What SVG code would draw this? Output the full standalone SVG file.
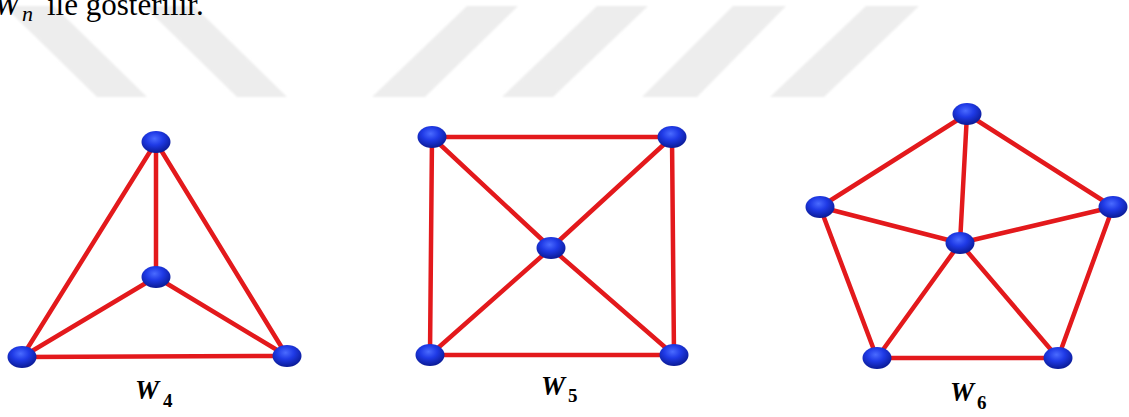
<svg xmlns="http://www.w3.org/2000/svg" width="1129" height="417" viewBox="0 0 1129 417">
  <defs>
    <radialGradient id="ball" cx="0.45" cy="0.35" r="0.65">
      <stop offset="0" stop-color="#4a6bff"/>
      <stop offset="0.45" stop-color="#1f3ae6"/>
      <stop offset="1" stop-color="#0a1a95"/>
    </radialGradient>
    <filter id="soft" x="-10%" y="-10%" width="120%" height="120%">
      <feGaussianBlur stdDeviation="1.2"/>
    </filter>
    <style>
      .edge { stroke: #e3191c; stroke-width: 4.5; stroke-linecap: round; fill: none; }
      .node { fill: url(#ball); }
      .stripe { fill: #ededed; }
      .lab { font-family: "Liberation Serif", "DejaVu Serif", serif; font-style: italic; font-weight: bold; fill: #000; }
      .sub { font-family: "Liberation Serif", "DejaVu Serif", serif; font-weight: bold; fill: #000; }
      .txt { font-family: "Liberation Serif", "DejaVu Serif", serif; fill: #000; }
    </style>
  </defs>
  <rect width="1129" height="417" fill="#ffffff"/>

  <g id="watermark" filter="url(#soft)">
    <polygon class="stripe" points="4,6 54,6 147,97 97,97"/>
    <polygon class="stripe" points="144,6 194,6 287,97 237,97"/>
    <polygon class="stripe" points="467,6 518,6 425,97 372,97"/>
    <polygon class="stripe" points="597,6 648,6 553,97 502,97"/>
    <polygon class="stripe" points="733,6 786,6 697,97 642,97"/>
    <polygon class="stripe" points="866,6 919,6 824,97 770,97"/>
  </g>

  <g id="heading">
    <text class="txt" x="-6" y="15" font-size="31" font-style="italic">W</text>
    <text class="txt" x="22" y="21" font-size="22" font-style="italic">n</text>
    <text class="txt" x="47" y="15" font-size="31">ile gösterilir.</text>
  </g>

  <g id="connectors">
    <!-- W4 -->
    <line class="edge" x1="156" y1="142" x2="156" y2="277"/>
    <line class="edge" x1="156" y1="142" x2="22" y2="357"/>
    <line class="edge" x1="156" y1="142" x2="287" y2="356"/>
    <line class="edge" x1="22" y1="357" x2="287" y2="356"/>
    <line class="edge" x1="156" y1="277" x2="22" y2="357"/>
    <line class="edge" x1="156" y1="277" x2="287" y2="356"/>
    <!-- W5 -->
    <line class="edge" x1="432" y1="137" x2="672" y2="137"/>
    <line class="edge" x1="432" y1="137" x2="430" y2="355"/>
    <line class="edge" x1="672" y1="137" x2="674" y2="355"/>
    <line class="edge" x1="430" y1="355" x2="674" y2="355"/>
    <line class="edge" x1="551" y1="248" x2="432" y2="137"/>
    <line class="edge" x1="551" y1="248" x2="672" y2="137"/>
    <line class="edge" x1="551" y1="248" x2="430" y2="355"/>
    <line class="edge" x1="551" y1="248" x2="674" y2="355"/>
    <!-- W6 -->
    <line class="edge" x1="967" y1="114" x2="820" y2="207"/>
    <line class="edge" x1="967" y1="114" x2="1113" y2="207"/>
    <line class="edge" x1="820" y1="207" x2="877" y2="358"/>
    <line class="edge" x1="1113" y1="207" x2="1058" y2="358"/>
    <line class="edge" x1="877" y1="358" x2="1058" y2="358"/>
    <line class="edge" x1="960" y1="243" x2="967" y2="114"/>
    <line class="edge" x1="960" y1="243" x2="820" y2="207"/>
    <line class="edge" x1="960" y1="243" x2="1113" y2="207"/>
    <line class="edge" x1="960" y1="243" x2="877" y2="358"/>
    <line class="edge" x1="960" y1="243" x2="1058" y2="358"/>
  </g>

  <g id="W4">
    <ellipse id="w4-top" class="node" cx="156" cy="142" rx="14.5" ry="11"/>
    <ellipse id="w4-center" class="node" cx="156" cy="277" rx="14.5" ry="11"/>
    <ellipse id="w4-bl" class="node" cx="22" cy="357" rx="14.5" ry="11"/>
    <ellipse id="w4-br" class="node" cx="287" cy="356" rx="14.5" ry="11"/>
    <text class="lab" x="135" y="399" font-size="27">W</text>
    <text class="sub" x="163" y="407" font-size="19">4</text>
  </g>

  <g id="W5">
    <ellipse id="w5-tl" class="node" cx="432" cy="137" rx="14.5" ry="11"/>
    <ellipse id="w5-tr" class="node" cx="672" cy="137" rx="14.5" ry="11"/>
    <ellipse id="w5-center" class="node" cx="551" cy="248" rx="14.5" ry="11"/>
    <ellipse id="w5-bl" class="node" cx="430" cy="355" rx="14.5" ry="11"/>
    <ellipse id="w5-br" class="node" cx="674" cy="355" rx="14.5" ry="11"/>
    <text class="lab" x="541" y="395" font-size="27">W</text>
    <text class="sub" x="568" y="402" font-size="19">5</text>
  </g>

  <g id="W6">
    <ellipse id="w6-top" class="node" cx="967" cy="114" rx="14.5" ry="11"/>
    <ellipse id="w6-left" class="node" cx="820" cy="207" rx="14.5" ry="11"/>
    <ellipse id="w6-right" class="node" cx="1113" cy="207" rx="14.5" ry="11"/>
    <ellipse id="w6-center" class="node" cx="960" cy="243" rx="14.5" ry="11"/>
    <ellipse id="w6-bl" class="node" cx="877" cy="358" rx="14.5" ry="11"/>
    <ellipse id="w6-br" class="node" cx="1058" cy="358" rx="14.5" ry="11"/>
    <text class="lab" x="950" y="401" font-size="27">W</text>
    <text class="sub" x="977" y="409" font-size="19">6</text>
  </g>
</svg>
